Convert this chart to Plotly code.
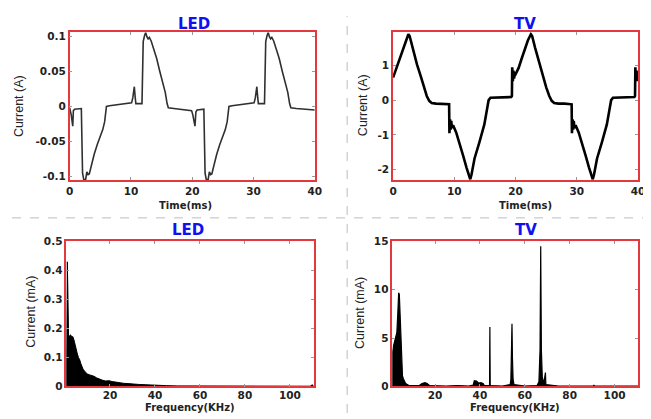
import plotly.graph_objects as go

# ---------------- data ----------------
led_t = [0, 0.25, 0.5, 0.6, 0.8, 1.9, 2.0, 2.1, 2.3, 2.6, 2.8, 3.0, 3.2, 3.5, 4.0, 4.5, 5.0, 5.4, 5.7, 5.9, 6.0,
         6.5, 7.5, 8.5, 9.5, 10.1, 10.3, 10.55, 10.7, 10.8, 11.8, 11.9, 12.0, 12.2, 12.4, 12.6, 12.8, 13.0, 13.3,
         13.7, 14.2, 14.7, 15.2, 15.6, 15.9, 16.1, 17, 18, 19, 19.9, 20.1, 20.45, 20.6, 20.8, 21.9,
         22.0, 22.1, 22.3, 22.6, 22.8, 23.0, 23.2, 23.5, 24.0, 24.5, 25.0, 25.4, 25.7, 25.9, 26.0,
         26.5, 27.5, 28.5, 29.5, 30.1, 30.3, 30.55, 30.7, 30.8, 31.8, 31.9, 32.0, 32.2, 32.4, 32.6, 32.8, 33.0, 33.3,
         33.7, 34.2, 34.7, 35.2, 35.6, 35.9, 36.1, 37, 38, 39, 40]
led_i = [-0.002, -0.012, -0.028, -0.006, -0.004, -0.003, -0.05, -0.095, -0.104, -0.104, -0.093, -0.097, -0.096, -0.084, -0.068, -0.054, -0.042, -0.033, -0.022, -0.006, 0.0,
         0.001, 0.002, 0.003, 0.004, 0.005, 0.012, 0.028, 0.012, 0.004, 0.004, 0.05, 0.092, 0.1, 0.105, 0.099, 0.096, 0.098, 0.093,
         0.082, 0.068, 0.05, 0.035, 0.02, 0.004, -0.002, -0.003, -0.004, -0.005, -0.006, -0.012, -0.028, -0.008, -0.005, -0.004,
         -0.05, -0.095, -0.104, -0.104, -0.093, -0.097, -0.096, -0.084, -0.068, -0.054, -0.042, -0.033, -0.022, -0.006, 0.0,
         0.001, 0.002, 0.003, 0.004, 0.005, 0.012, 0.028, 0.012, 0.004, 0.004, 0.05, 0.092, 0.1, 0.105, 0.099, 0.096, 0.098, 0.093,
         0.082, 0.068, 0.05, 0.035, 0.02, 0.004, -0.002, -0.003, -0.004, -0.004, -0.005]

tv_t = [0, 0.3, 1.0, 1.5, 2.0, 2.5, 2.7, 3.2, 3.9, 4.5, 5.0, 5.5, 5.9, 6.3, 7, 8, 9.0, 9.15, 9.2, 9.3, 9.4, 9.5, 9.6, 9.8,
        10.3, 10.8, 11.4, 12.0, 12.4, 12.6, 12.8, 13.3, 14.1, 14.9, 15.3, 15.6, 15.9, 17, 18, 19.3, 19.4, 19.45, 19.55,
        19.65, 19.75, 19.85, 20.0, 20.5, 21.0, 21.5, 22.0, 22.5, 22.7, 23.2, 23.9, 24.5, 25.0, 25.5, 25.9, 26.3, 27, 28,
        29.0, 29.15, 29.2, 29.3, 29.4, 29.5, 29.6, 29.8, 30.3, 30.8, 31.4, 32.0, 32.4, 32.6, 32.8, 33.3, 34.1, 34.9, 35.3,
        35.6, 35.9, 37, 38, 39.4, 39.5, 39.55, 39.65, 39.75, 39.85, 40]
tv_i = [0.65, 0.8, 1.15, 1.4, 1.65, 1.9, 1.85, 1.5, 1.03, 0.7, 0.37, 0.12, -0.02, -0.08, -0.1, -0.1, -0.1, -0.12, -0.95, -0.55, -0.85, -0.6, -0.8, -0.72,
        -0.93, -1.2, -1.58, -1.95, -2.2, -2.28, -2.15, -1.68, -1.21, -0.7, -0.3, 0.0, 0.07, 0.08, 0.08, 0.09, 0.12, 0.95, 0.55,
        0.85, 0.62, 0.78, 0.75, 0.93, 1.2, 1.49, 1.72, 1.9, 1.85, 1.5, 1.03, 0.7, 0.37, 0.12, -0.02, -0.08, -0.1, -0.1,
        -0.1, -0.12, -0.95, -0.55, -0.85, -0.6, -0.8, -0.72, -0.93, -1.2, -1.58, -1.95, -2.2, -2.28, -2.15, -1.68, -1.21, -0.7, -0.3,
        0.0, 0.07, 0.08, 0.08, 0.09, 0.12, 0.95, 0.55, 0.85, 0.6, 0.56]

led_f = [0.6, 0.8, 1.0, 1.2, 1.4, 1.6, 2.0, 2.5, 3.0, 3.5, 4.0, 4.5, 5.0, 5.5, 6.0, 6.5, 7.0, 7.5, 8.0, 9.0, 10.0, 11.0,
         12.0, 13.0, 14.0, 15.0, 16.5, 18.0, 19.5, 21.0, 22.5, 24.0, 26.0, 28.0, 30.0, 33.0, 36.0, 40.0, 45.0, 50.0,
         60.0, 70.0, 80.0, 90.0, 100.0, 109.0, 110.0, 110.6]
led_a = [0.0, 0.30, 0.43, 0.36, 0.22, 0.17, 0.175, 0.178, 0.17, 0.172, 0.16, 0.14, 0.127, 0.112, 0.10, 0.093, 0.08, 0.072, 0.06, 0.05, 0.043, 0.04,
         0.038, 0.035, 0.03, 0.026, 0.022, 0.019, 0.02, 0.017, 0.015, 0.012, 0.011, 0.01, 0.008, 0.007, 0.006, 0.004, 0.003, 0.002,
         0.0015, 0.001, 0.001, 0.001, 0.001, 0.001, 0.006, 0.0]

tv_f = [1.0, 1.1, 1.5, 2.0, 2.5, 3.0, 3.4, 3.8, 4.1, 4.4, 4.7, 5.1, 5.5, 5.9, 6.9, 8.4, 10, 13, 14.2, 15.5, 16.5, 17.5, 25, 30, 35,
        37.0, 37.5, 38.5, 39.5, 40.5, 41.5, 42, 44.3, 44.45, 44.6, 50, 53.5, 53.8, 54.1, 54.3, 54.5, 54.8, 55.2, 60, 65.5,
        66.3, 66.8, 67.1, 67.4, 67.8, 68.5, 69.2, 69.4, 75, 90.6, 90.8, 91.0, 110.5]
tv_a = [0.0, 3.6, 4.2, 4.8, 5.4, 5.6, 7.5, 9.7, 9.5, 7.5, 5.1, 1.8, 1.1, 0.8, 0.3, 0.1, 0.08, 0.1, 0.3, 0.4, 0.3, 0.1, 0.05, 0.1, 0.05,
        0.15, 0.6, 0.55, 0.35, 0.4, 0.3, 0.1, 0.1, 6.15, 0.1, 0.05, 0.2, 0.7, 3.0, 6.5, 3.0, 0.7, 0.2, 0.05, 0.1,
        0.5, 3.8, 14.5, 3.8, 1.0, 0.3, 1.45, 0.2, 0.05, 0.05, 0.15, 0.05, 0.05]

time_ticks = [0, 10, 20, 30, 40]
freq_ticks = [20, 40, 60, 80, 100]
led_time_yticks = [0.1, 0.05, 0, -0.05, -0.1]
led_time_ylabels = ["0.1", "0.05", "0", "-0.05", "-0.1"]
tv_time_yticks = [1, 0, -1, -2]
tv_time_ylabels = ["1", "0", "-1", "-2"]
led_freq_yticks = [0, 0.1, 0.2, 0.3, 0.4, 0.5]
led_freq_ylabels = ["0", "0.1", "0.2", "0.3", "0.4", "0.5"]
tv_freq_yticks = [0, 5, 10, 15]
tv_freq_ylabels = ["0", "5", "10", "15"]
titles = ["LED", "TV", "LED", "TV"]

# ---------------- figure ----------------
OFF = 8  # page body margin
W, H = 651 - OFF, 419 - OFF
fig = go.Figure()

fig.add_trace(go.Scatter(x=led_t, y=led_i, mode="lines", line=dict(color="#303030", width=1.6),
                         xaxis="x", yaxis="y", showlegend=False))
fig.add_trace(go.Scatter(x=tv_t, y=tv_i, mode="lines", line=dict(color="#000000", width=2.6),
                         xaxis="x2", yaxis="y2", showlegend=False))
fig.add_trace(go.Scatter(x=led_f, y=led_a, mode="lines", fill="tozeroy", fillcolor="#000000",
                         line=dict(color="#000000", width=1), xaxis="x3", yaxis="y3", showlegend=False))
fig.add_trace(go.Scatter(x=tv_f, y=tv_a, mode="lines", fill="tozeroy", fillcolor="#000000",
                         line=dict(color="#000000", width=1.2), xaxis="x4", yaxis="y4", showlegend=False))

tickfont = dict(family="DejaVu Sans", size=10.5, color="#222222", weight="bold")
RED = "#e3383c"


def px(x):
    return (x - OFF) / W


def py(y):
    return 1 - (y - OFF) / H


def xax(dom, rng, ticks, anchor, standoff=0):
    return dict(domain=dom, range=rng, tickvals=ticks, ticktext=[str(t) for t in ticks], anchor=anchor,
                showline=True, linecolor=RED, linewidth=1.6, mirror="ticks", ticks="inside",
                ticklen=3, tickcolor="#999999", tickfont=tickfont, showgrid=False, zeroline=False,
                fixedrange=True, ticklabelstandoff=standoff)


def yax(dom, rng, ticks, labels, anchor):
    return dict(domain=dom, range=rng, tickvals=ticks, ticktext=labels, anchor=anchor,
                showline=True, linecolor=RED, linewidth=1.6, mirror="ticks", ticks="inside",
                ticklen=3, tickcolor="#999999", tickfont=tickfont, showgrid=False, zeroline=False,
                fixedrange=True)


def dx(a, b):
    return [px(a), px(b)]


def dy(top, bottom):
    return [py(bottom), py(top)]


fig.update_layout(
    width=W, height=H, margin=dict(l=0, r=0, t=0, b=0),
    paper_bgcolor="white", plot_bgcolor="white", showlegend=False,
    xaxis=xax(dx(66.7, 316), [0, 40], time_ticks, "y"),
    yaxis=yax(dy(26.7, 179.3), [-0.105, 0.1055], led_time_yticks, led_time_ylabels, "x"),
    xaxis2=xax(dx(395.7, 645), [0, 40], time_ticks, "y2"),
    yaxis2=yax(dy(26.7, 179.3), [-2.31, 1.96], tv_time_yticks, tv_time_ylabels, "x2"),
    xaxis3=xax(dx(63.3, 315), [0.6, 110.6], freq_ticks, "y3", -2),
    yaxis3=yax(dy(242.3, 391.7), [0, 0.5], led_freq_yticks, led_freq_ylabels, "x3"),
    xaxis4=xax(dx(395, 645), [1.0, 110.5], freq_ticks, "y4", -2),
    yaxis4=yax(dy(242.3, 391.7), [0, 15], tv_freq_yticks, tv_freq_ylabels, "x4"),
)

# dividers
fig.add_shape(type="line", xref="paper", yref="paper", x0=px(8), x1=1, y0=py(218), y1=py(218),
              line=dict(color="#bdbdbd", width=1, dash="dash"))
fig.add_shape(type="line", xref="paper", yref="paper", x0=px(349), x1=px(349), y0=0, y1=py(10),
              line=dict(color="#bdbdbd", width=1, dash="dash"))

title_font = dict(family="DejaVu Sans", size=15, color="#1010f0", weight="bold")
title_pos = [(193, 18.5), (530, 18.5), (187, 231), (531, 231)]
for txt, (x, y) in zip(titles, title_pos):
    fig.add_annotation(text=txt, x=px(x), y=py(y), xref="paper", yref="paper", showarrow=False,
                       font=title_font, xanchor="center", yanchor="middle")

ylab_font = dict(family="Liberation Sans", size=12.5, color="#222222")
ylabs = [("Current (A)", 15, 103), ("Current (A)", 365, 102), ("Current (mA)", 27, 315), ("Current (mA)", 362, 316)]
for txt, x, y in ylabs:
    fig.add_annotation(text=txt, x=px(x), y=py(y), xref="paper", yref="paper", showarrow=False,
                       font=ylab_font, textangle=-90, xanchor="center", yanchor="middle")

xlab_font = dict(family="DejaVu Sans", size=10, color="#222222", weight="bold")
xlabs = [("Time(ms)", 185, 205), ("Time(ms)", 530, 205), ("Frequency(KHz)", 189, 413), ("Frequency(KHz)", 520, 413)]
for txt, x, y in xlabs:
    fig.add_annotation(text=txt, x=px(x), y=py(y), xref="paper", yref="paper", showarrow=False,
                       font=xlab_font, xanchor="center", yanchor="middle")

fig.write_html("out.html")
